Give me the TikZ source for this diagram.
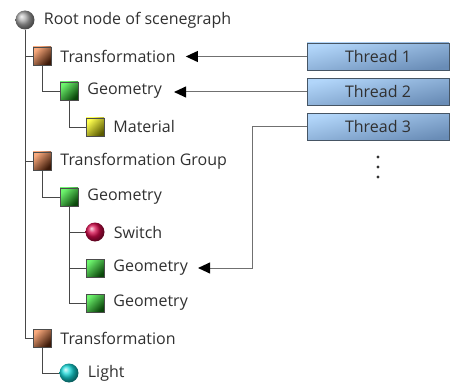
\documentclass[tikz,border=0pt]{standalone}
\usepackage{fontspec}
\setmainfont{Open Sans}
\usepackage{tikz}
\usetikzlibrary{shapes.geometric, arrows.meta, positioning}
\definecolor{txtgray}{HTML}{303030}
\definecolor{linegray}{HTML}{707070}
\tikzstyle{icon} = [rectangle, minimum size=18pt, inner sep=0pt, draw=black!70, line width=0.5pt, shading angle=45]
\tikzstyle{xform} = [icon, top color={rgb,255:red,250;green,170;blue,125}, bottom color={rgb,255:red,60;green,25;blue,8}, shading angle=45]
\tikzstyle{geom} = [icon, top color={rgb,255:red,110;green,245;blue,110}, bottom color={rgb,255:red,10;green,70;blue,10}, shading angle=45]
\tikzstyle{mater} = [icon, top color={rgb,255:red,255;green,255;blue,80}, bottom color={rgb,255:red,90;green,90;blue,0}, shading angle=45]
\tikzstyle{ball} = [circle, minimum size=19pt, inner sep=0pt]
\tikzstyle{lbl} = [anchor=west, xshift=8pt, text=txtgray, font=\fontsize{16}{19}\selectfont, inner sep=1pt]
\tikzstyle{thread} = [rectangle, minimum width=142pt, minimum height=27pt, inner sep=0pt, draw={rgb,255:red,70;green,85;blue,100}, top color={rgb,255:red,178;green,214;blue,250}, bottom color={rgb,255:red,105;green,140;blue,182}, shading angle=12, text=txtgray, font=\fontsize{16}{19}\selectfont]
\tikzstyle{tree} = [draw=black!72, line width=0.9pt]
\tikzstyle{arrow} = [draw=linegray, line width=1pt, -{Triangle[length=12pt, width=11pt, color=black]}]

\begin{document}
\begin{tikzpicture}[x=1pt, y=1pt]
\useasboundingbox (0,-385) rectangle (450,0);

% scene graph
\node (root) [ball, ball color=gray!70] at (25,-20) {};
\node (rootlbl) [lbl] at (root.east) {Root node of scenegraph};

\node (trans1) [xform] at (42,-56) {};
\node (trans1lbl) [lbl] at (trans1.east) {Transformation};
\node (geo1) [geom] at (69,-91) {};
\node (geo1lbl) [lbl] at (geo1.east) {Geometry};
\node (mat) [mater] at (95,-127) {};
\node (matlbl) [lbl] at (mat.east) {Material};

\node (group) [xform] at (42,-161) {};
\node (grouplbl) [lbl] at (group.east) {Transformation Group};
\node (geo2) [geom] at (69,-197) {};
\node (geo2lbl) [lbl] at (geo2.east) {Geometry};
\node (switch) [ball, ball color={rgb,255:red,215;green,10;blue,75}] at (95,-232) {};
\node (switchlbl) [lbl] at (switch.east) {Switch};
\node (geo3) [geom] at (95,-268) {};
\node (geo3lbl) [lbl] at (geo3.east) {Geometry};
\node (geo4) [geom] at (95,-303) {};
\node (geo4lbl) [lbl] at (geo4.east) {Geometry};

\node (trans2) [xform] at (42,-338) {};
\node (trans2lbl) [lbl] at (trans2.east) {Transformation};
\node (light) [ball, ball color={rgb,255:red,20;green,215;blue,215}] at (69,-373) {};
\node (lightlbl) [lbl] at (light.east) {Light};

\draw [tree] (root.south) |- (trans1.west);
\draw [tree] (root.south) |- (group.west);
\draw [tree] (root.south) |- (trans2.west);
\draw [tree] (trans1.south) |- (geo1.west);
\draw [tree] (geo1.south) |- (mat.west);
\draw [tree] (group.south) |- (geo2.west);
\draw [tree] (geo2.south) |- (switch.west);
\draw [tree] (geo2.south) |- (geo3.west);
\draw [tree] (geo2.south) |- (geo4.west);
\draw [tree] (trans2.south) |- (light.west);

% threads
\node (t1) [thread] at (378,-56.5) {Thread 1};
\node (t2) [thread] at (378,-92) {Thread 2};
\node (t3) [thread] at (378,-127) {Thread 3};
\foreach \yy in {157,167,177}
  \fill [black!80] (378,-\yy) circle (1.6pt);

\draw [arrow] (t1.west) -- ([xshift=9pt]t1.west -| trans1lbl.east);
\draw [arrow] (t2.west) -- ([xshift=11pt]t2.west -| geo1lbl.east);
\draw [arrow] (t3.west) -- ++(-54,0) |- ([xshift=9pt]geo3lbl.east);

\end{tikzpicture}
\end{document}
